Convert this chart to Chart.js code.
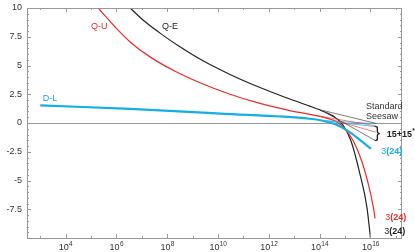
<!DOCTYPE html>
<html>
<head>
<meta charset="utf-8">
<script src="https://cdn.jsdelivr.net/npm/chart.js@4.4.0/dist/chart.umd.min.js"></script>
<style>
  html, body { margin: 0; padding: 0; background: #fff; }
  #wrap { width: 415px; height: 252px; }
</style>
</head>
<body>
<div id="wrap"><canvas id="chart" width="415" height="252"></canvas></div>
<script>
// x = log10(scale), y = running value

// Q-E (black), main curve continuing into the 3(24) branch
const qeX = [6.54, 7.13, 7.84, 8.50, 9.37, 10.47, 11.53, 12.63, 13.61, 14.20, 14.59, 14.91, 15.23, 15.58, 15.86, 16.00]
const qeY = [10, 8.8, 7.62, 6.62, 5.45, 4.22, 3.19, 2.24, 1.47, 0.95, 0.52, -0.17, -1.55, -4.40, -7.33, -10]

// Q-U (red)
const quX = [5.28, 5.95, 6.54, 7.32, 8.31, 9.29, 10.47, 11.65, 12.82, 13.61, 14.20, 14.67, 14.99, 15.32, 15.65, 15.91, 16.11, 16.18]
const quY = [10, 8.35, 7.05, 5.75, 4.5, 3.5, 2.5, 1.7, 1.08, 0.75, 0.47, 0.09, -0.5, -1.55, -3.28, -5.28, -7.3, -8.3]

// D-L (cyan)
const dlX = [3.00, 6.54, 10.08, 13.61, 14.08, 14.59, 15.11, 15.58, 16.02]
const dlY = [1.53, 1.23, 0.82, 0.37, 0.22, -0.09, -0.69, -1.47, -2.24]

// thin branches: Standard Seesaw and 15+15*
const qeSeesawX = [13.92, 16.21]
const qeSeesawY = [1.2, -0.03]
const qe15X = [14.20, 16.21]
const qe15Y = [0.95, -1.55]
const quSeesawX = [13.92, 16.21]
const quSeesawY = [0.62, -0.25]
const qu15X = [14.08, 16.21]
const qu15Y = [0.55, -0.8]
const dlSeesawX = [14.08, 16.21]
const dlSeesawY = [0.22, -0.06]
const dl15X = [14.08, 16.21]
const dl15Y = [0.22, -0.32]

// axis ticks
const yTicks = [-7.5, -5, -2.5, 0, 2.5, 5, 7.5, 10]
const xLabelExps = [4, 6, 8, 10, 12, 14, 16]

const RED = '#ec2a2a'
const BLACK = '#222222'
const CYAN = '#12aee8'
const FONT = '"Liberation Sans", Arial, sans-serif'

function pts(xs, ys) {
  return xs.map((x, i) => ({ x: x, y: ys[i] }))
}

function line(xs, ys, color, width) {
  return {
    data: pts(xs, ys),
    showLine: true,
    borderColor: color,
    borderWidth: width,
    pointRadius: 0,
    cubicInterpolationMode: 'monotone',
    fill: false
  }
}

const extras = {
  id: 'extras',
  afterDraw(chart) {
    const ctx = chart.ctx
    const xs = chart.scales.x
    const ys = chart.scales.y
    const a = chart.chartArea
    ctx.save()

    // frame
    ctx.strokeStyle = '#999'
    ctx.lineWidth = 1
    ctx.strokeRect(a.left + 0.5, a.top + 0.5, a.right - a.left - 1, a.bottom - a.top)

    // inward ticks on all sides
    ctx.beginPath()
    for (let v = -10; v <= 10.001; v += 0.5) {
      const py = Math.round(ys.getPixelForValue(v)) + 0.5
      const len = Math.abs(v / 2.5 - Math.round(v / 2.5)) < 0.01 ? 4 : 2
      ctx.moveTo(a.left, py); ctx.lineTo(a.left + len, py)
      ctx.moveTo(a.right, py); ctx.lineTo(a.right - len, py)
    }
    for (let e = 3; e <= 17; e++) {
      const px = Math.round(xs.getPixelForValue(e)) + 0.5
      const len = e % 2 === 0 ? 4 : 2
      ctx.moveTo(px, a.bottom); ctx.lineTo(px, a.bottom - len)
      ctx.moveTo(px, a.top); ctx.lineTo(px, a.top + len)
    }
    ctx.stroke()

    // x labels 10^n
    ctx.fillStyle = '#333'
    ctx.textBaseline = 'alphabetic'
    ctx.textAlign = 'left'
    xLabelExps.forEach((e) => {
      const px = xs.getPixelForValue(e)
      ctx.font = '9px ' + FONT
      const w1 = ctx.measureText('10').width
      ctx.font = '6.5px ' + FONT
      const w2 = ctx.measureText(String(e)).width
      const x0 = px - (w1 + w2) / 2
      ctx.font = '9px ' + FONT
      ctx.fillText('10', x0, 250)
      ctx.font = '6.5px ' + FONT
      ctx.fillText(String(e), x0 + w1 + 0.3, 245.5)
    })

    // curve labels
    ctx.textBaseline = 'middle'
    const put = (txt, lx, ly, color, align, weight) => {
      ctx.font = (weight || '') + ' 9px ' + FONT
      ctx.fillStyle = color
      ctx.textAlign = align || 'left'
      ctx.fillText(txt, xs.getPixelForValue(lx), ys.getPixelForValue(ly))
    }
    put('Q-U', 5.32, 8.36, RED, 'center')
    put('Q-E', 8.11, 8.36, BLACK, 'center')
    put('D-L', 3.39, 2.16, CYAN, 'center')
    put('Standard', 15.82, 1.47, '#333')
    put('Seesaw', 15.82, 0.6, '#333')

    // brace and 15+15*
    ctx.font = '17px ' + FONT
    ctx.fillStyle = BLACK
    ctx.textAlign = 'left'
    ctx.fillText('}', xs.getPixelForValue(16.16), ys.getPixelForValue(-0.86))
    ctx.font = 'bold 9px ' + FONT
    const bx = xs.getPixelForValue(16.64)
    const by = ys.getPixelForValue(-1.03)
    ctx.fillText('15+15', bx, by)
    const bw = ctx.measureText('15+15').width
    ctx.font = 'bold 6.5px ' + FONT
    ctx.fillText('*', bx + bw + 0.3, by - 3.5)

    // 3(24) labels
    const tag = (lx, ly, color) => {
      const px = xs.getPixelForValue(lx)
      const py = ys.getPixelForValue(ly)
      ctx.fillStyle = color
      ctx.font = '9px ' + FONT
      ctx.fillText('3', px, py)
      const w = ctx.measureText('3').width
      ctx.font = 'bold 9px ' + FONT
      ctx.fillText('(24)', px + w, py)
    }
    tag(16.42, -2.5, CYAN)
    tag(16.58, -8.19, RED)
    tag(16.54, -9.4, BLACK)

    ctx.restore()
  }
}

new Chart(document.getElementById('chart'), {
  type: 'scatter',
  data: {
    datasets: [
      line(qeSeesawX, qeSeesawY, '#444', 0.7),
      line(qe15X, qe15Y, '#444', 0.7),
      line(quSeesawX, quSeesawY, '#f04848', 0.7),
      line(qu15X, qu15Y, '#f04848', 0.7),
      line(dlSeesawX, dlSeesawY, '#2ab2ea', 0.8),
      line(dl15X, dl15Y, '#2ab2ea', 0.8),
      line(dlX, dlY, CYAN, 2.2),
      line(quX, quY, RED, 1.2),
      line(qeX, qeY, BLACK, 1.2)
    ]
  },
  options: {
    responsive: false,
    animation: false,
    layout: { padding: { top: 8, right: 13, left: 0, bottom: 0 } },
    plugins: { legend: { display: false }, tooltip: { enabled: false } },
    scales: {
      x: {
        type: 'linear',
        min: 2.48,
        max: 17.24,
        ticks: { display: false },
        grid: { display: false },
        border: { display: false },
        afterFit: (s) => { s.height = 14; s.paddingLeft = 0; s.paddingRight = 0 }
      },
      y: {
        type: 'linear',
        min: -10,
        max: 10,
        afterBuildTicks: (s) => { s.ticks = [-10].concat(yTicks).map((v) => ({ value: v })) },
        ticks: {
          callback: (v) => (v === -10 ? '' : String(v)),
          color: '#333',
          padding: 5,
          font: { size: 9, family: FONT }
        },
        grid: {
          drawTicks: false,
          color: (c) => (c.tick && c.tick.value === 0 ? '#999' : 'rgba(0,0,0,0)')
        },
        border: { display: false },
        afterFit: (s) => { s.width = 27; s.paddingTop = 0; s.paddingBottom = 0 }
      }
    }
  },
  plugins: [extras]
})
</script>
</body>
</html>
